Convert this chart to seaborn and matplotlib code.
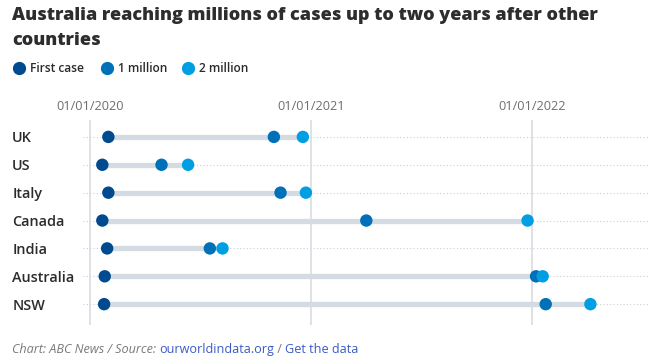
import pandas as pd
import matplotlib.pyplot as plt
import seaborn as sns

# Data
places = ["UK", "US", "Italy", "Canada", "India", "Australia", "NSW"]
first_case = ["2020-01-31", "2020-01-21", "2020-01-31", "2020-01-21", "2020-01-29", "2020-01-25", "2020-01-24"]
one_million = ["2020-10-31", "2020-04-28", "2020-11-11", "2021-04-02", "2020-07-17", "2022-01-08", "2022-01-24"]
two_million = ["2020-12-18", "2020-06-11", "2020-12-23", "2021-12-25", "2020-08-07", "2022-01-19", "2022-04-08"]
milestones = ["First case", "1 million", "2 million"]
tick_dates = ["2020-01-01", "2021-01-01", "2022-01-01"]
tick_labels = ["01/01/2020", "01/01/2021", "01/01/2022"]

palette = {"First case": "#004a8f", "1 million": "#0071b8", "2 million": "#009fe3"}

wide = pd.DataFrame({"place": places, "First case": first_case,
                     "1 million": one_million, "2 million": two_million})
for c in milestones:
    wide[c] = pd.to_datetime(wide[c])
df = wide.melt(id_vars="place", value_vars=milestones, var_name="milestone", value_name="date")

sns.set_theme(style="white")
plt.rcParams["font.family"] = ["Open Sans", "DejaVu Sans"]

fig = plt.figure(figsize=(6.56, 3.62), dpi=100)
ax = fig.add_axes([0.1265, 0.102, 0.861, 0.566])

ypos = {p: i for i, p in enumerate(places)}
df["y"] = df["place"].map(ypos)

# dotted row guides and vertical date lines
for i in range(len(places)):
    ax.axhline(i, color="#c9ced6", lw=0.8, ls=(0, (1, 2)), zorder=0)
for d in tick_dates:
    ax.axvline(pd.Timestamp(d), color="#d5dae0", lw=1.1, zorder=0)

# grey bars from first case to 2 million
ax.hlines(wide["place"].map(ypos), wide["First case"], wide["2 million"],
          color="#d5dbe2", lw=3.8, zorder=1)

sns.scatterplot(data=df, x="date", y="y", hue="milestone", hue_order=milestones,
                palette=palette, s=80, edgecolor="none", legend=False, zorder=3, ax=ax)

ax.set_xlim(pd.Timestamp("2019-12-20"), pd.Timestamp("2022-07-12"))
ax.set_ylim(6.75, -0.6)
ax.set_yticks(range(len(places)))
ax.set_yticklabels(places, fontsize=10.4, color="#2b2b2b", fontweight="semibold")
ax.set_xticks([pd.Timestamp(d) for d in tick_dates])
ax.set_xticklabels(tick_labels, fontsize=9.2, color="#6f6f6f")
ax.xaxis.tick_top()
ax.tick_params(axis="x", length=0, pad=5)
ax.tick_params(axis="y", length=0, pad=51)
for lab in ax.get_yticklabels():
    lab.set_horizontalalignment("left")
ax.set_xlabel("")
ax.set_ylabel("")
sns.despine(ax=ax, left=True, bottom=True, top=True, right=True)

# title
fig.text(12 / 656, 1 - 7 / 362, "Australia reaching millions of cases up to two years after other\ncountries",
         fontsize=13.0, fontweight="heavy", color="#2d2d2d", va="top", ha="left", linespacing=1.6)

# legend
leg_x = [19, 107, 188]
for x0, m in zip(leg_x, milestones):
    fig.lines.append(plt.Line2D([x0 / 656], [1 - 68 / 362], marker="o", ms=8.5, color=palette[m],
                                lw=0, transform=fig.transFigure))
    fig.text((x0 + 11) / 656, 1 - 68 / 362, m, fontsize=8.6, color="#2b2b2b",
             fontweight="semibold", va="center", ha="left")

# footer with mixed colours
fig.canvas.draw()
renderer = fig.canvas.get_renderer()
pieces = [("Chart: ABC News / Source: ", "#7a7a7a", "italic"),
          ("ourworldindata.org", "#3b5bc4", "normal"),
          (" / ", "#7a7a7a", "normal"),
          ("Get the data", "#3b5bc4", "normal")]
x = 12
for txt, col, sty in pieces:
    t = fig.text(x / 656, 1 - 353 / 362, txt, fontsize=9.1, color=col, style=sty,
                 va="baseline", ha="left")
    x += t.get_window_extent(renderer).width

fig.savefig("out.png", dpi=100)
